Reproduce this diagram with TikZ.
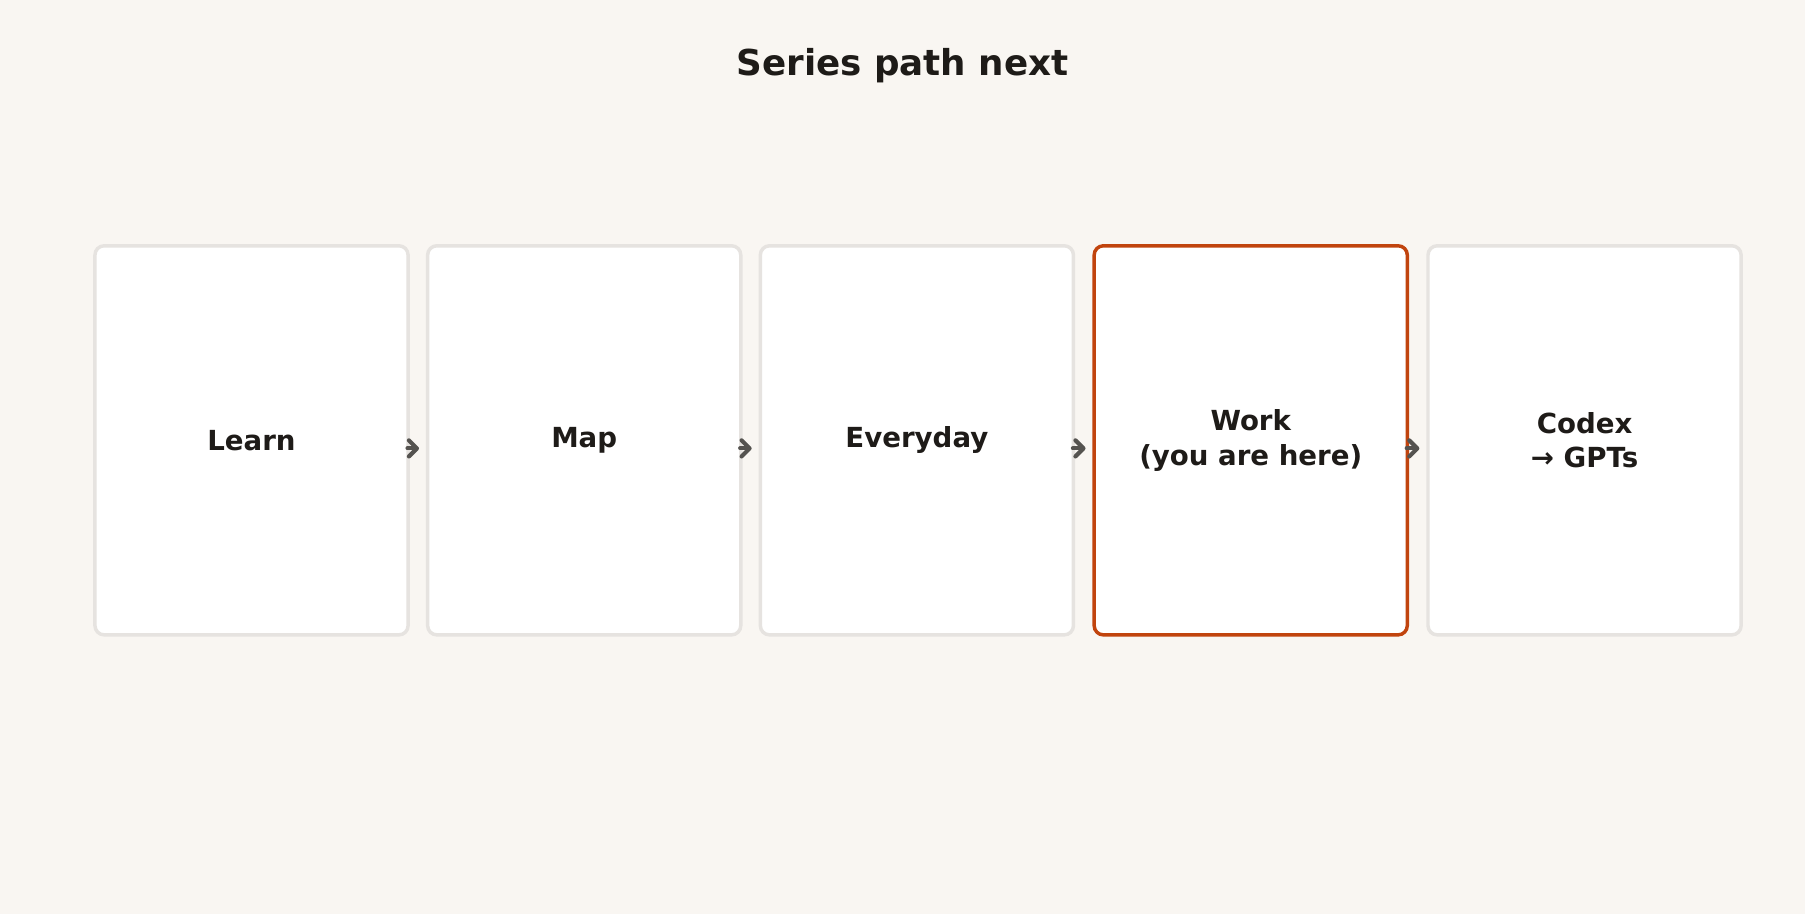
\documentclass[tikz,border=0pt]{standalone}
\usepackage{fontspec}
\setmainfont{DejaVu Sans}
\usetikzlibrary{arrows.meta}
\definecolor{bg}{HTML}{F9F6F2}
\definecolor{bd}{HTML}{E6E3E0}
\definecolor{hl}{HTML}{C1440E}
\definecolor{tx}{HTML}{1E1B18}
\definecolor{ar}{HTML}{555350}
\begin{document}
\begin{tikzpicture}[x=0.5pt,y=-0.5pt,
  box/.style={draw=bd,line width=1.5pt,rounded corners=4pt,fill=white,minimum width=136pt,minimum height=169pt,inner sep=0pt,align=center,font=\bfseries\fontsize{12}{15}\selectfont,text=tx},
  here/.style={draw=hl},
  chev/.style={draw=ar,line width=1.8pt,line cap=round,-{Straight Barb[length=3.5pt,width=7pt,line cap=round,line join=round]},shorten <=-1pt,shorten >=3pt}]
\fill[bg] (0,0) rectangle (1568,794);
\useasboundingbox (0,0) rectangle (1568,794);
\node[font=\bfseries\fontsize{15.5}{18}\selectfont,text=tx] (t) at (784,57) {Series path next};
\node[box] (a) at (218.5,382.5) {Learn};
\node[box] (b) at (507.5,382.5) {Map};
\node[box] (c) at (796.5,382.5) {Everyday};
\node[box,here] (d) at (1086.5,382.5) {Work\\(you are here)};
\node[box] (e) at (1376.5,382.5) {Codex\\→ GPTs};
\draw[chev] ([yshift=-3.5pt]a.east) -- ([yshift=-3.5pt]b.west);
\draw[chev] ([yshift=-3.5pt]b.east) -- ([yshift=-3.5pt]c.west);
\draw[chev] ([yshift=-3.5pt]c.east) -- ([yshift=-3.5pt]d.west);
\draw[chev] ([yshift=-3.5pt]d.east) -- ([yshift=-3.5pt]e.west);
\end{tikzpicture}
\end{document}
